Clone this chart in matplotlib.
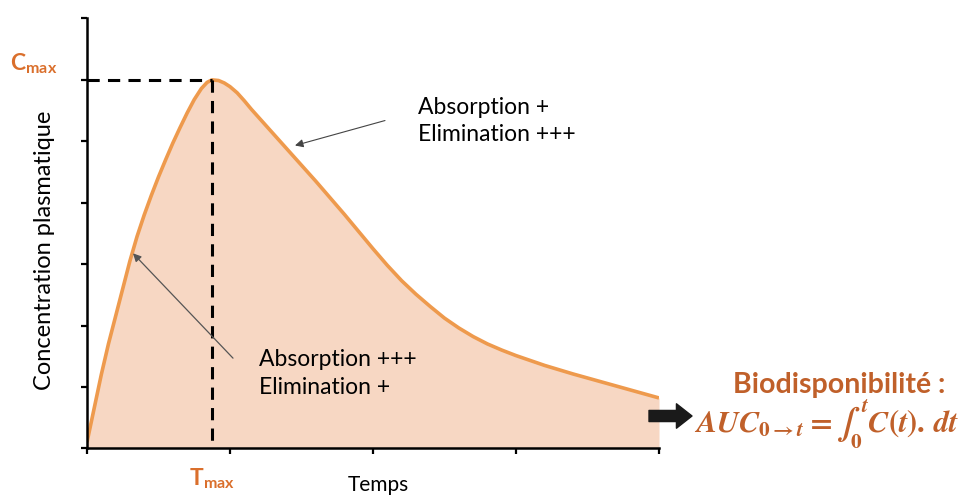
import matplotlib
matplotlib.use("Agg")
import matplotlib.pyplot as plt

plt.rcParams['font.family'] = ['Lato', 'DejaVu Sans']
plt.rcParams['mathtext.fontset'] = 'custom'
plt.rcParams['mathtext.it'] = 'STIXGeneral:italic:bold'
plt.rcParams['mathtext.rm'] = 'STIXGeneral:bold'
plt.rcParams['mathtext.bf'] = 'STIXGeneral:bold'

# data (time in arbitrary units, concentration in arbitrary units)
temps = [0, 0.05, 0.1, 0.15, 0.2, 0.25, 0.3, 0.35, 0.4, 0.45, 0.5, 0.55, 0.6,
         0.65, 0.7, 0.75, 0.8, 0.84, 0.874, 0.92, 0.96, 1.0, 1.05, 1.1, 1.15,
         1.2, 1.3, 1.4, 1.5, 1.6, 1.7, 1.8, 1.9, 2.0, 2.1, 2.2, 2.3, 2.4, 2.5,
         2.6, 2.7, 2.8, 2.9, 3.0, 3.2, 3.4, 3.6, 3.8, 4.0]
concentration = [0.1, 0.65, 1.2, 1.7, 2.15, 2.6, 3.05, 3.45, 3.8, 4.12, 4.42,
                 4.7, 4.97, 5.22, 5.46, 5.68, 5.86, 5.96, 6.0, 5.99, 5.95,
                 5.89, 5.79, 5.66, 5.52, 5.39, 5.13, 4.87, 4.61, 4.35, 4.08,
                 3.81, 3.53, 3.25, 2.98, 2.73, 2.51, 2.31, 2.12, 1.96, 1.82,
                 1.70, 1.60, 1.51, 1.35, 1.21, 1.08, 0.95, 0.82]
t_max = 0.874
c_max = 6.0
x_ticks = [0, 1, 2, 3, 4]
y_ticks = [0, 1, 2, 3, 4, 5, 6, 7]

orange = '#EE9A4D'
fill_col = '#F7D7C3'
label_col = '#DA6F2C'
brown = '#C0602A'

fig = plt.figure(figsize=(9.59, 4.96), dpi=100)
ax = fig.add_axes([87/959, (496-448.3)/496, 572/959, (448.3-18.5)/496])
ax.set_xlim(0, 4)
ax.set_ylim(0, 7)

ax.fill_between(temps, concentration, 0, color=fill_col, lw=0, zorder=1)
ax.plot(temps, concentration, color=orange, lw=2.6, zorder=2,
        solid_joinstyle='round', solid_capstyle='butt')

ax.plot([0, t_max], [c_max, c_max], color='black', lw=2.2,
        dashes=(4, 2.7), zorder=3, clip_on=False)
ax.plot([t_max, t_max], [c_max, 0], color='black', lw=2.2,
        dashes=(4, 2.7), zorder=3, clip_on=False)

for s in ['top', 'right']:
    ax.spines[s].set_visible(False)
for s in ['left', 'bottom']:
    ax.spines[s].set_linewidth(1.8)
ax.set_xticks(x_ticks)
ax.set_yticks(y_ticks)
ax.tick_params(length=4, width=1.6, labelleft=False, labelbottom=False)

# labels
fig.text(45/959, 1 - 250/496, 'Concentration plasmatique', rotation=90,
         ha='center', va='center', fontsize=17)
fig.text(378/959, 1 - 485/496, 'Temps', ha='center', va='center', fontsize=15)

ax.annotate(r'C$_{\mathregular{max}}$', xy=(0, c_max), xycoords='data',
            xytext=(-53, 16), textcoords='offset pixels', ha='center',
            va='center', fontsize=16.5, fontweight='bold', color=label_col)
ax.annotate(r'T$_{\mathregular{max}}$', xy=(t_max, 0), xycoords='data',
            xytext=(0, -31), textcoords='offset pixels', ha='center',
            va='center', fontsize=16.5, fontweight='bold', color=label_col)

# annotations
ax.text(2.315, 5.33, 'Absorption +\nElimination +++', fontsize=16.5,
        ha='left', va='center', linespacing=1.3)
ax.text(1.2, 1.22, 'Absorption +++\nElimination +', fontsize=16.5,
        ha='left', va='center', linespacing=1.38, zorder=5)

ax.annotate('', xy=((295 - 87) / 143, (448.3 - 145) / 61.5),
            xytext=((385 - 87) / 143, (448.3 - 120) / 61.5),
            arrowprops=dict(arrowstyle='-|>', color='#444444', lw=0.8,
                            mutation_scale=12, shrinkA=0, shrinkB=0))
ax.annotate('', xy=((133 - 87) / 143, (448.3 - 253) / 61.5),
            xytext=((233 - 87) / 143, (448.3 - 358) / 61.5),
            arrowprops=dict(arrowstyle='-|>', color='#555555', lw=0.9,
                            mutation_scale=12, shrinkA=0, shrinkB=0))

# bioavailability
fig.text(839/959, 1 - 385/496, 'Biodisponibilité :', ha='center', va='center',
         fontsize=20.5, fontweight='bold', color=brown)
fig.text(826/959, 1 - 424/496, r'$AUC_{0\rightarrow t} = \int_0^t C(t).\,dt$',
         ha='center', va='center', fontsize=22, color=brown)
ax.annotate('', xy=(692/959, 1 - 416/496), xycoords='figure fraction',
            xytext=(649/959, 1 - 416/496), textcoords='figure fraction',
            arrowprops=dict(arrowstyle='simple,head_length=0.7,head_width=1.1,tail_width=0.5',
                            color='#1a1a1a', mutation_scale=16, shrinkA=0, shrinkB=0))

fig.savefig('out.png', dpi=100)
